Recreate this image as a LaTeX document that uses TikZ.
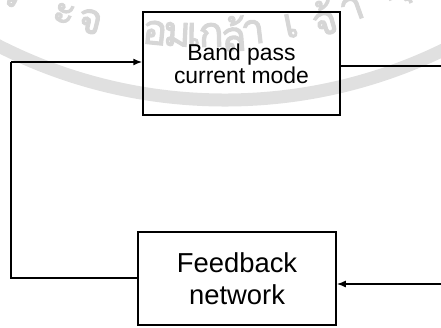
\documentclass[tikz,border=0pt]{standalone}
\usepackage{fontspec}
\setmainfont{Liberation Sans}
\newfontfamily\thaifont[Script=Thai,FakeBold=2.5]{Loma}
\usetikzlibrary{arrows.meta}

\tikzset{
  blockbox/.style={draw, line width=1.5bp, inner sep=0pt, align=center},
  wire/.style={line width=1.5bp},
  feed/.style={wire, -{Latex[length=9bp,width=7bp]}},
  sealring/.style={draw=black!12},
  sealtext/.style={text=black!16, font=\thaifont\fontsize{42}{42}\selectfont}
}

\begin{document}
\begin{tikzpicture}[x=1bp, y=-1bp]
\useasboundingbox (0,0) rectangle (441,327);
\clip (0,0) rectangle (441,327);

% faint seal in the background: outer ring and its lettering
\draw[sealring, line width=13bp] (225,-400) circle[radius=500bp];
\foreach \t/\a in {ร/-24.4, ะ/-17.4, จ/-14.0, อ/-5.7, ม/-2.9, เ/-0.8, ก/1.4, ล้/4.2, า/6.7, เ/11.5, จ้/15.8, า/19.5, คุ/25.4}
  \node[sealtext, rotate=\a] at ({200+455*sin(\a)}, {-420+455*cos(\a)}) {\t};

% blocks
\node[blockbox, minimum width=197bp, minimum height=103bp,
      font=\fontsize{23}{23}\selectfont] (bp) at (241.5,63.5) {Band pass\\current mode};
\node[blockbox, minimum width=198bp, minimum height=93bp,
      font=\fontsize{27.5}{32}\selectfont] (fb) at (237,278.5) {Feedback\\network};

% loop ends and corners
\coordinate (outR) at (441,66);
\coordinate (inR) at (441,284);
\coordinate (cornL) at (11,278);
\coordinate (cornU) at (11,62);

% connections
\draw[wire] (bp.east |- outR) -- (outR);
\draw[feed] (inR) -- (fb.east |- inR);
\draw[wire] (fb.west |- cornL) -- (cornL) -- (cornU);
\draw[feed] (cornU) -- (bp.west |- cornU);
\end{tikzpicture}
\end{document}
